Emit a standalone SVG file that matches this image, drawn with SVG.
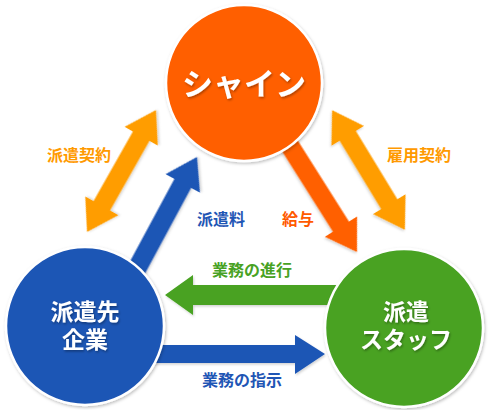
<svg xmlns="http://www.w3.org/2000/svg" width="490" height="410" viewBox="0 0 490 410">
<defs>
<filter id="sh" x="-20%" y="-20%" width="140%" height="140%">
<feDropShadow dx="1" dy="1.5" stdDeviation="1.5" flood-color="#000" flood-opacity="0.25"/>
</filter>
<filter id="ash" x="-20%" y="-20%" width="140%" height="140%">
<feDropShadow dx="1" dy="1.5" stdDeviation="1" flood-color="#000" flood-opacity="0.18"/>
</filter>
<filter id="tsh" x="-20%" y="-20%" width="140%" height="140%">
<feDropShadow dx="1" dy="1.5" stdDeviation="0.8" flood-color="#000" flood-opacity="0.35"/>
</filter>
</defs>
<style>
text{font-family:"Noto Sans CJK JP","Noto Sans",sans-serif;font-weight:bold;text-anchor:middle}
.node{stroke:#fff;stroke-width:2.5;filter:url(#sh)}
.nt{fill:#fff;filter:url(#tsh)}
.lbl{font-size:16px}
.arr{filter:url(#ash)}
</style>
<rect width="490" height="410" fill="#fff"/>
<g id="connectors">
<polygon class="arr" fill="#FF9D00" transform="translate(121.5,171) rotate(-60.5)" points="70,0 40,-19 40,-9.5 -40,-9.5 -40,-19 -70,0 -40,19 -40,9.5 40,9.5 40,19"/>
<polygon class="arr" fill="#FF9D00" transform="translate(368.5,170) rotate(58.7)" points="70,0 40,-19 40,-9.5 -40,-9.5 -40,-19 -70,0 -40,19 -40,9.5 40,9.5 40,19"/>
<polygon class="arr" fill="#1F56B5" transform="translate(197,157) rotate(-61.7)" points="0,0 -30,-19.5 -30,-9.5 -160,-9.5 -160,9.5 -30,9.5 -30,19.5"/>
<polygon class="arr" fill="#FF6000" transform="translate(357,252) rotate(57.7)" points="0,0 -30,-19 -30,-9.5 -160,-9.5 -160,9.5 -30,9.5 -30,19"/>
<polygon class="arr" fill="#48A224" points="165,295 193,275 193,285 400,285 400,305 193,305 193,315"/>
<polygon class="arr" fill="#1F56B5" points="325,354 295,335 295,345 85,345 85,363 295,363 295,374"/>
<text class="lbl" x="79" y="161" fill="#FF9A00">派遣契約</text>
<text class="lbl" x="419" y="161" fill="#FF9A00">雇用契約</text>
<text class="lbl" x="221" y="225" fill="#1F56B5">派遣料</text>
<text class="lbl" x="298" y="225" fill="#FF5A00">給与</text>
<text class="lbl" x="252" y="276" fill="#48A224">業務の進行</text>
<text class="lbl" x="242" y="386" fill="#1F56B5">業務の指示</text>
</g>
<g id="node-shine">
<circle class="node" cx="244" cy="83" r="78" fill="#FF5E00"/>
<text class="nt" x="244" y="95" font-size="31">シャイン</text>
</g>
<g id="node-client">
<circle class="node" cx="85" cy="326" r="79" fill="#1F56B5"/>
<text class="nt" font-size="23"><tspan x="85" y="320">派遣先</tspan><tspan x="85" y="348">企業</tspan></text>
</g>
<g id="node-staff">
<circle class="node" cx="404" cy="328" r="79" fill="#48A224"/>
<text class="nt" font-size="23"><tspan x="406" y="320">派遣</tspan><tspan x="406" y="348">スタッフ</tspan></text>
</g>
</svg>
